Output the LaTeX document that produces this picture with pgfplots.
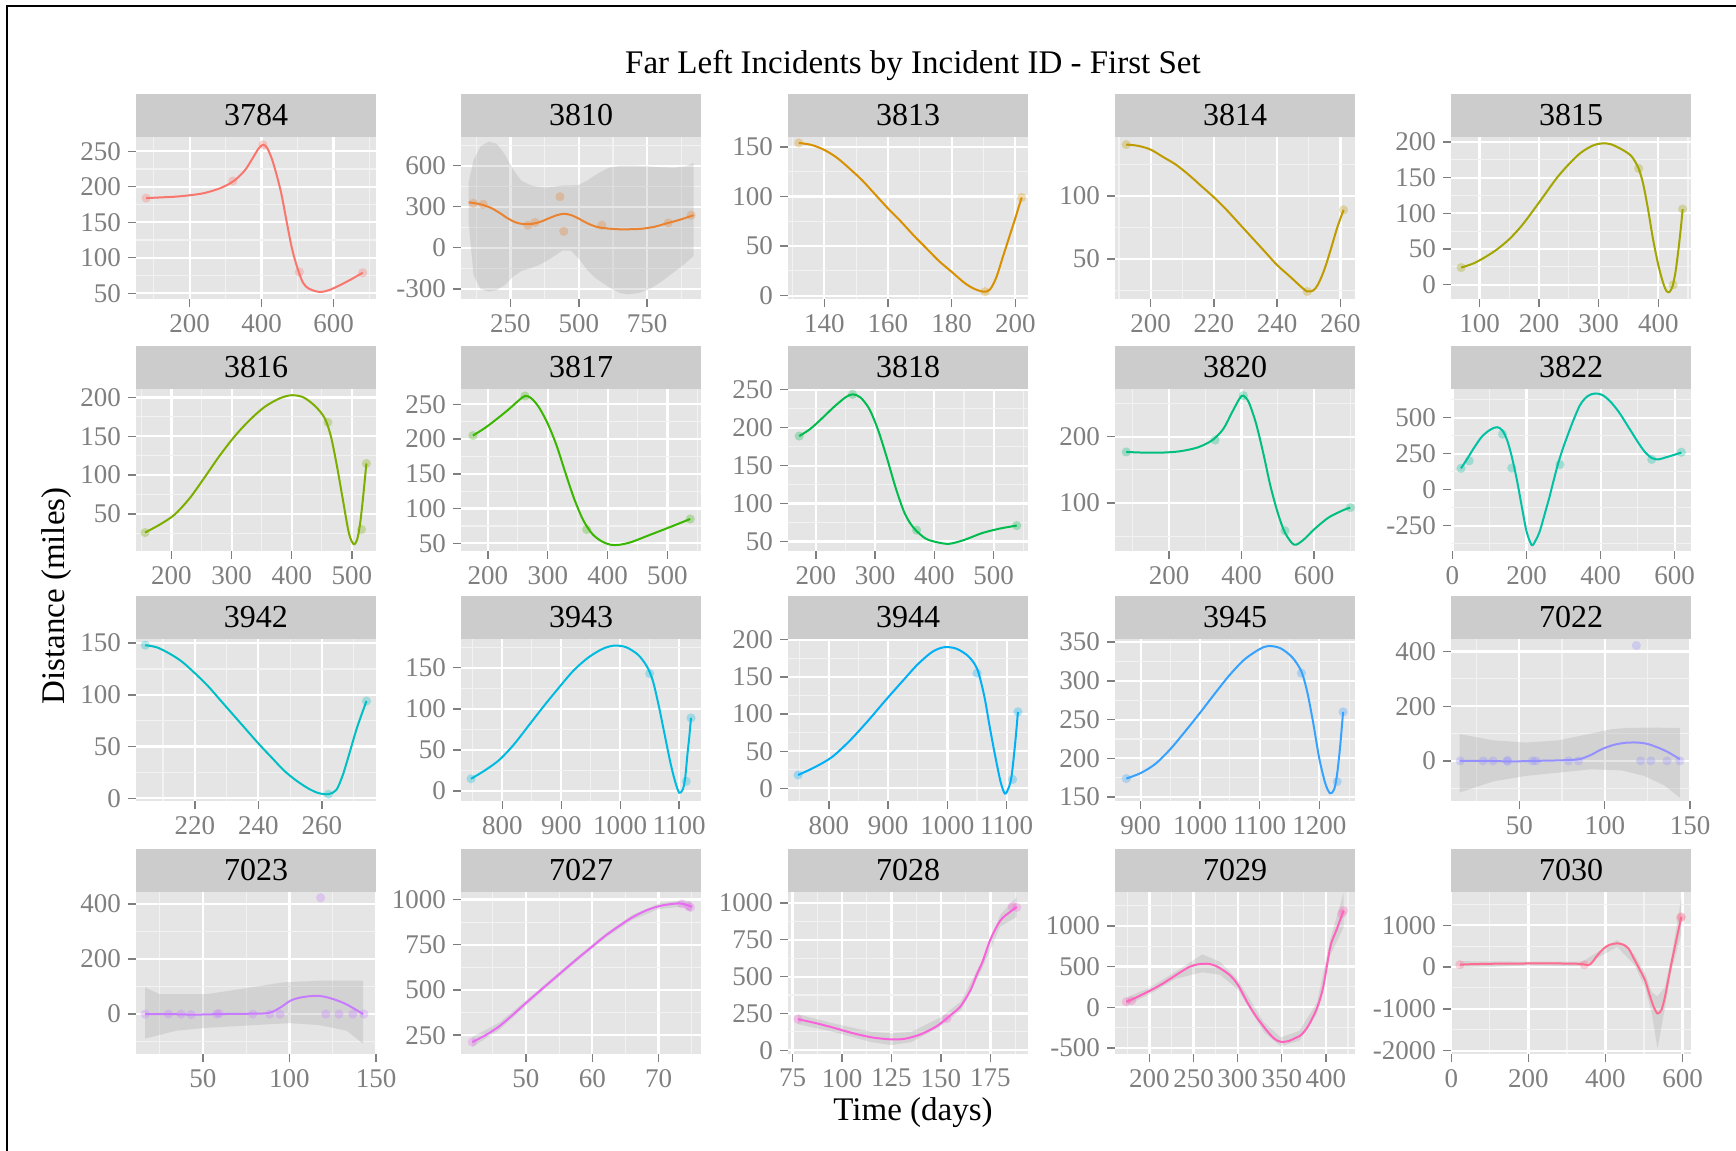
\documentclass[border=0pt]{standalone}
\usepackage{pgfplots}
\pgfplotsset{compat=1.18}
\usepackage{fontspec}
\setmainfont{Liberation Serif}

\definecolor{panelbg}{HTML}{E5E5E5}
\definecolor{minorgrid}{HTML}{F2F2F2}
\definecolor{stripbg}{HTML}{CCCCCC}
\definecolor{tickgray}{HTML}{7F7F7F}
\definecolor{bandgray}{HTML}{999999}
\definecolor{c3784}{HTML}{F8766D}
\definecolor{c3810}{HTML}{EA8331}
\definecolor{c3813}{HTML}{D89000}
\definecolor{c3814}{HTML}{C09B00}
\definecolor{c3815}{HTML}{A3A500}
\definecolor{c3816}{HTML}{7CAE00}
\definecolor{c3817}{HTML}{39B600}
\definecolor{c3818}{HTML}{00BB4E}
\definecolor{c3820}{HTML}{00BF7D}
\definecolor{c3822}{HTML}{00C1A3}
\definecolor{c3942}{HTML}{00BFC4}
\definecolor{c3943}{HTML}{00BAE0}
\definecolor{c3944}{HTML}{00B0F6}
\definecolor{c3945}{HTML}{35A2FF}
\definecolor{c7022}{HTML}{9590FF}
\definecolor{c7023}{HTML}{C77CFF}
\definecolor{c7027}{HTML}{E76BF3}
\definecolor{c7028}{HTML}{FA62DB}
\definecolor{c7029}{HTML}{FF62BC}
\definecolor{c7030}{HTML}{FF6C91}

\pgfplotsset{
  panel/.style={
    scale only axis, width=120pt, height=81pt, anchor=north west,
    axis background/.style={fill=panelbg},
    axis line style={draw=none},
    xtick pos=left, ytick pos=left,
    tick align=outside,
    major tick length=4pt, minor tick length=0pt,
    major tick style={draw=tickgray, line width=0.7pt},
    grid=both,
    major grid style={white, line width=1.1pt},
    minor grid style={minorgrid, line width=0.55pt},
    ticklabel style={font=\fontsize{13.5pt}{14pt}\selectfont, text=tickgray},
    /pgf/number format/assume math mode=true,
    /pgf/number format/1000 sep={},
    scaled ticks=false,
    every axis title/.style={at={(0.5,1)}, anchor=south, fill=stripbg,
      minimum width=120pt, minimum height=21.5pt, inner sep=0pt,
      font=\fontsize{16pt}{17pt}\selectfont},
  },
  curve/.style={color=#1, line width=1pt, smooth, tension=0.5, mark=none},
  pts/.style={only marks, mark=*, mark size=2.3pt, color=#1,
    fill opacity=0.3, draw opacity=0,
    mark options={fill=#1, fill opacity=0.3, draw opacity=0}},
  band/.style={draw=none, fill=bandgray, fill opacity=0.24, mark=none},
}

\begin{document}
\begin{tikzpicture}
\useasboundingbox (0,0) rectangle (868pt,-575.5pt);
\draw[line width=1pt] (3.5pt,-580pt) -- (3.5pt,-3pt) -- (870pt,-3pt);
\node[anchor=base, font=\fontsize{16.5pt}{18pt}\selectfont] at (456.5pt,-36.5pt) {Far Left Incidents by Incident ID - First Set};
\node[anchor=base, font=\fontsize{16.5pt}{18pt}\selectfont] at (456.5pt,-560pt) {Time (days)};
\node[anchor=base, rotate=90, font=\fontsize{16.5pt}{18pt}\selectfont] at (32pt,-298pt) {Distance (miles)};

% ---------------- row 1 ----------------
\begin{axis}[panel, at={(68pt,-68.5pt)}, title={3784},
  xmin=51, xmax=718, ymin=42, ymax=270,
  xtick={200,400,600}, minor xtick={100,300,500,700},
  ytick={50,100,150,200,250}, minor ytick={75,125,175,225}]
\addplot[curve=c3784] coordinates {(79,184) (120,185) (160,186) (200,188) (240,191) (280,197) (310,204) (330,211) (355,224) (375,240) (392,254) (404,259) (415,255) (428,240) (440,220) (455,190) (470,150) (485,112) (500,85) (515,65) (530,57) (550,53) (567,52) (590,55) (620,62) (650,70) (681,79)};
\addplot[pts=c3784] coordinates {(79,184) (320,208) (404,259) (505,80) (681,79)};
\end{axis}

\begin{axis}[panel, at={(230.5pt,-68.5pt)}, title={3810},
  xmin=69, xmax=947, ymin=-374, ymax=809,
  xtick={250,500,750}, minor xtick={125,375,625,875},
  ytick={-300,0,300,600}, minor ytick={-150,150,450,750}]
\addplot[band] coordinates {(97,480) (115,640) (140,740) (170,775) (200,760) (230,680) (260,570) (290,490) (320,460) (350,445) (380,440) (410,445) (440,455) (470,455) (500,460) (530,490) (567,540) (610,585) (651,600) (700,600) (750,595) (800,588) (850,585) (890,595) (920,620)
 (920,-60) (880,-130) (840,-190) (800,-250) (760,-300) (720,-330) (680,-340) (650,-330) (620,-300) (590,-260) (560,-220) (530,-160) (500,-80) (470,-20) (440,-20) (410,-60) (380,-100) (350,-130) (320,-150) (290,-170) (260,-210) (230,-270) (200,-310) (170,-320) (140,-300) (115,-200) (97,180)};
\addplot[curve=c3810] coordinates {(97,332) (130,322) (150,312) (180,290) (210,255) (240,215) (270,185) (300,172) (330,175) (360,190) (390,215) (420,238) (445,248) (470,240) (500,213) (530,180) (567,152) (610,140) (651,135) (700,136) (735,140) (780,155) (819,177) (870,205) (920,238)};
\addplot[pts=c3810] coordinates {(114,325) (150,318) (314,165) (340,185) (431,373) (445,120) (584,165) (827,182) (911,238)};
\end{axis}

\begin{axis}[panel, at={(394pt,-68.5pt)}, title={3813},
  xmin=128.6, xmax=204, ymin=-3.4, ymax=160,
  xtick={140,160,180,200}, minor xtick={130,150,170,190},
  ytick={0,50,100,150}, minor ytick={25,75,125}]
\addplot[curve=c3813] coordinates {(132,154) (136,152) (140,147) (144,139) (148,128) (152,116) (156,102) (160,88) (164,75) (168,61) (172,48) (176,35) (180,24) (184,13) (187,7) (190,4) (192,6) (194,18) (196,38) (198,58) (200,78) (202,99)};
\addplot[pts=c3813] coordinates {(132,154) (190.5,4) (202,99)};
\end{axis}

\begin{axis}[panel, at={(557.5pt,-68.5pt)}, title={3814},
  xmin=188.75, xmax=264.6, ymin=18, ymax=147,
  xtick={200,220,240,260}, minor xtick={190,210,230,250},
  ytick={50,100}, minor ytick={25,75,125}]
\addplot[curve=c3814] coordinates {(192.3,141) (196,140) (200,137) (204,131) (208,125) (212,117) (216,108) (220,99) (224,89) (228,78) (232,67) (236,56) (240,45) (244,36) (247,29) (249.5,24) (251.5,25) (253,30) (255,42) (257,58) (259,75) (261,89)};
\addplot[pts=c3814] coordinates {(192.3,141) (249.5,24) (261,89)};
\end{axis}

\begin{axis}[panel, at={(725.5pt,-68.5pt)}, title={3815},
  xmin=52, xmax=455, ymin=-20, ymax=207,
  xtick={100,200,300,400}, minor xtick={150,250,350,450},
  ytick={0,50,100,150,200}, minor ytick={25,75,125,175}]
\addplot[curve=c3815] coordinates {(69,24) (90,30) (110,39) (130,50) (150,64) (170,82) (190,104) (210,127) (230,150) (250,169) (270,185) (290,195) (305,198) (320,197) (340,189) (355,180) (367,163) (375,140) (383,105) (391,65) (400,28) (408,3) (414,-9) (419,-10) (424,-2) (429,18) (434,50) (438,80) (441,106)};
\addplot[pts=c3815] coordinates {(69,24) (367,163) (425,0) (441,106)};
\end{axis}

% ---------------- row 2 ----------------
\begin{axis}[panel, at={(68pt,-194.5pt)}, title={3816},
  xmin=141, xmax=540, ymin=2.2, ymax=211,
  xtick={200,300,400,500}, minor xtick={150,250,350,450},
  ytick={50,100,150,200}, minor ytick={25,75,125,175}]
\addplot[curve=c3816] coordinates {(156,26) (180,36) (205,49) (230,70) (255,97) (280,125) (305,150) (330,171) (355,188) (380,199) (400,203) (420,200) (440,188) (455,173) (465,150) (475,112) (485,68) (495,25) (503,11) (509,18) (514,40) (519,75) (524,115)};
\addplot[pts=c3816] coordinates {(156,26) (460,168) (516,30) (524,115)};
\end{axis}

\begin{axis}[panel, at={(230.5pt,-194.5pt)}, title={3817},
  xmin=155, xmax=556, ymin=39, ymax=272,
  xtick={200,300,400,500}, minor xtick={250,350,450,550},
  ytick={50,100,150,200,250}, minor ytick={75,125,175,225}]
\addplot[curve=c3817] coordinates {(175,205) (195,216) (215,229) (235,243) (252,256) (262,262) (272,259) (285,246) (300,222) (315,190) (330,150) (345,112) (360,82) (375,63) (390,53) (405,48) (420,48) (440,52) (470,62) (500,72) (538,85)};
\addplot[pts=c3817] coordinates {(175,205) (262,262) (365,70) (538,85)};
\end{axis}

\begin{axis}[panel, at={(394pt,-194.5pt)}, title={3818},
  xmin=153, xmax=558, ymin=37.5, ymax=251,
  xtick={200,300,400,500}, minor xtick={250,350,450,550},
  ytick={50,100,150,200,250}, minor ytick={75,125,175,225}]
\addplot[curve=c3818] coordinates {(172,189) (190,198) (210,212) (230,227) (250,240) (262,244) (275,240) (290,225) (305,197) (320,160) (335,120) (350,87) (365,68) (385,54) (405,49) (425,47) (450,52) (480,61) (510,67) (539,71)};
\addplot[pts=c3818] coordinates {(172,189) (262,244) (370,65) (539,71)};
\end{axis}

\begin{axis}[panel, at={(557.5pt,-194.5pt)}, title={3820},
  xmin=51, xmax=713, ymin=27.5, ymax=272,
  xtick={200,400,600}, minor xtick={100,300,500,700},
  ytick={100,200}, minor ytick={50,150,250}]
\addplot[curve=c3820] coordinates {(82,177) (130,176) (180,176) (230,178) (280,184) (320,195) (350,212) (375,238) (395,258) (405,262) (420,252) (440,220) (460,175) (480,125) (500,85) (520,55) (545,37) (570,44) (600,60) (640,78) (680,89) (700,93)};
\addplot[pts=c3820] coordinates {(82,177) (327,195) (405,262) (520,58) (700,93)};
\end{axis}

\begin{axis}[panel, at={(725.5pt,-194.5pt)}, title={3822},
  xmin=-4, xmax=644, ymin=-426, ymax=699,
  xtick={0,200,400,600}, minor xtick={100,300,500},
  ytick={-250,0,250,500}, minor ytick={-375,-125,125,375,625}]
\addplot[curve=c3822] coordinates {(23,148) (40,215) (58,290) (80,370) (103,418) (121,434) (135,410) (148,340) (160,230) (174,66) (188,-130) (200,-290) (214,-385) (225,-350) (236,-286) (250,-160) (262,-50) (271,42) (285,180) (300,300) (324,466) (345,590) (365,650) (385,668) (405,657) (425,615) (449,540) (475,435) (502,325) (520,260) (538,220) (555,210) (573,222) (600,243) (618,258)};
\addplot[pts=c3822] coordinates {(23,148) (45,200) (135,385) (160,150) (290,175) (538,210) (618,260)};
\end{axis}

% ---------------- row 3 ----------------
\begin{axis}[panel, at={(68pt,-319.5pt)}, title={3942},
  xmin=201.5, xmax=277, ymin=-2.6, ymax=154,
  xtick={220,240,260}, minor xtick={210,230,250,270},
  ytick={0,50,100,150}, minor ytick={25,75,125}]
\addplot[curve=c3942] coordinates {(204.4,148) (208,146) (212,140) (216,132) (220,121) (224,109) (228,95) (232,81) (236,67) (240,53) (244,40) (248,27) (252,17) (256,9) (259,5) (262,4) (264.5,8) (266.5,22) (268.5,42) (271,68) (274,94)};
\addplot[pts=c3942] coordinates {(204.4,148) (262,4) (274,94)};
\end{axis}

\begin{axis}[panel, at={(230.5pt,-319.5pt)}, title={3943},
  xmin=730, xmax=1137, ymin=-12, ymax=185,
  xtick={800,900,1000,1100}, minor xtick={750,850,950,1050},
  ytick={0,50,100,150}, minor ytick={25,75,125,175}]
\addplot[curve=c3943] coordinates {(747,15) (770,25) (795,38) (820,57) (845,80) (870,103) (895,125) (920,146) (945,162) (970,173) (990,177) (1010,175) (1030,166) (1045,152) (1055,135) (1065,105) (1075,70) (1085,35) (1093,12) (1100,-2) (1106,2) (1110,15) (1114,45) (1117,65) (1120,89)};
\addplot[pts=c3943] coordinates {(747,15) (1050,143) (1112,12) (1120,89)};
\end{axis}

\begin{axis}[panel, at={(394pt,-319.5pt)}, title={3944},
  xmin=731, xmax=1136, ymin=-17, ymax=201,
  xtick={800,900,1000,1100}, minor xtick={750,850,950,1050},
  ytick={0,50,100,150,200}, minor ytick={25,75,125,175}]
\addplot[curve=c3944] coordinates {(748,18) (775,28) (805,42) (835,64) (865,90) (895,118) (925,145) (950,167) (975,184) (995,190) (1015,188) (1035,178) (1050,161) (1062,125) (1072,80) (1082,38) (1090,8) (1097,-7) (1103,0) (1108,15) (1113,50) (1116,75) (1119,103)};
\addplot[pts=c3944] coordinates {(748,18) (1050,155) (1110,12) (1119,103)};
\end{axis}

\begin{axis}[panel, at={(557.5pt,-319.5pt)}, title={3945},
  xmin=857, xmax=1260, ymin=145, ymax=354,
  xtick={900,1000,1100,1200}, minor xtick={950,1050,1150,1250},
  ytick={150,200,250,300,350}, minor ytick={175,225,275,325}]
\addplot[curve=c3945] coordinates {(876,174) (900,181) (925,193) (950,212) (975,235) (1000,259) (1025,284) (1050,308) (1075,328) (1100,341) (1115,345) (1135,342) (1155,330) (1170,312) (1180,285) (1190,245) (1200,200) (1210,168) (1218,155) (1225,160) (1230,180) (1235,215) (1240,260)};
\addplot[pts=c3945] coordinates {(876,174) (1170,310) (1230,170) (1240,260)};
\end{axis}

\begin{axis}[panel, at={(725.5pt,-319.5pt)}, title={7022},
  xmin=10, xmax=150.5, ymin=-147, ymax=446,
  xtick={50,100,150}, minor xtick={25,75,125},
  ytick={0,200,400}, minor ytick={-100,100,300}]
\addplot[band] coordinates {(15,98) (35,75) (54,67) (73,75) (92,100) (104,116) (112,120) (125,122) (144,120)
 (144,-135) (135,-90) (123,-55) (110,-35) (92,-31) (73,-43) (54,-55) (35,-75) (15,-116)};
\addplot[curve=c7022] coordinates {(15,0) (30,0) (45,-2) (60,0) (75,2) (85,6) (92,22) (98,42) (105,58) (112,66) (119,67) (125,62) (131,49) (137,32) (144,6)};
\addplot[pts=c7022] coordinates {(15.4,0) (28.8,0) (34.6,0) (43,-2) (43,2) (57.7,0) (59.6,0) (78.8,0) (84.6,0) (121,0) (127,0) (136.5,0) (144,0) (118.5,422)};
\end{axis}

% ---------------- row 4 ----------------
\begin{axis}[panel, at={(68pt,-446pt)}, title={7023},
  xmin=11.3, xmax=150, ymin=-145, ymax=443,
  xtick={50,100,150}, minor xtick={25,75,125},
  ytick={0,200,400}, minor ytick={-100,100,300}]
\addplot[band] coordinates {(16.6,97) (25,72) (52,72) (78,97) (96,115) (117,121) (142.5,121)
 (142.5,-108) (133,-60) (117,-40) (100,-33) (80,-40) (52,-50) (35,-60) (16.6,-89)};
\addplot[curve=c7023] coordinates {(16.6,0) (30,0) (45,-2) (60,0) (75,1) (88,4) (95,25) (101,50) (108,62) (117,66) (125,55) (133,35) (142.5,0)};
\addplot[pts=c7023] coordinates {(16.6,0) (30,0) (37.3,0) (43.2,-2) (58,0) (59.3,2) (78.8,0) (88.6,0) (94.5,0) (121,0) (128.6,0) (136.6,0) (143,0) (118,422)};
\end{axis}

\begin{axis}[panel, at={(230.5pt,-446pt)}, title={7027},
  xmin=40.2, xmax=76.4, ymin=146, ymax=1041,
  xtick={50,60,70}, minor xtick={45,55,65,75},
  ytick={250,500,750,1000}, minor ytick={375,625,875}]
\addplot[band] coordinates {(41.9,240) (46,320) (50,442) (54,567) (58,692) (62,812) (66,914) (70,977) (73.5,995) (75,990)
 (75,930) (73.5,960) (70,947) (66,886) (62,788) (58,668) (54,543) (50,414) (46,280) (41.9,184)};
\addplot[curve=c7027] coordinates {(41.9,212) (44,252) (46,300) (48,362) (50,428) (52,492) (54,555) (56,618) (58,680) (60,740) (62,800) (64,852) (66,900) (68,937) (70,962) (72,975) (73.5,977) (75,960)};
\addplot[pts=c7027] coordinates {(41.9,212) (73.5,975) (74.5,962) (74.8,957)};
\end{axis}

\begin{axis}[panel, at={(394pt,-446pt)}, title={7028},
  xmin=72.7, xmax=194, ymin=-25, ymax=1074,
  xtick={75,100,125,150,175}, minor xtick={87.5,112.5,137.5,162.5,187.5},
  ytick={0,250,500,750,1000}, minor ytick={125,375,625,875}]
\addplot[band] coordinates {(77.7,245) (95,185) (115,125) (125,115) (135,125) (150,225) (160,330) (170,590) (180,920) (188.3,1040)
 (188.3,905) (180,840) (170,530) (160,270) (150,165) (135,55) (125,35) (115,55) (95,127) (77.7,177)};
\addplot[curve=c7028] coordinates {(77.7,211) (85,190) (95,156) (105,118) (115,88) (125,74) (132,79) (140,110) (148,165) (155,240) (160,300) (165,410) (168,510) (171,600) (175,752) (180,880) (185,940) (188.3,972)};
\addplot[pts=c7028] coordinates {(77.7,211) (153,215) (186,975) (188.3,970)};
\end{axis}

\begin{axis}[panel, at={(557.5pt,-446pt)}, title={7029},
  xmin=161, xmax=433, ymin=-575, ymax=1417,
  xtick={200,250,300,350,400}, minor xtick={175,225,275,325,375,425},
  ytick={-500,0,500,1000}, minor ytick={-250,250,750,1250}]
\addplot[band] coordinates {(173.7,120) (200,240) (230,440) (260,650) (280,560) (300,340) (330,-190) (349,-370) (370,-290) (390,60) (405,840) (420,1400)
 (420,980) (405,640) (390,-80) (370,-410) (349,-480) (330,-310) (300,220) (280,400) (260,430) (230,350) (200,160) (173.7,20)};
\addplot[curve=c7029] coordinates {(173.7,67) (185,120) (200,200) (215,290) (230,395) (245,495) (255,528) (265,535) (275,510) (290,405) (300,280) (312,40) (322,-130) (334,-300) (342,-390) (349,-425) (358,-415) (366,-375) (372,-340) (380,-230) (390,-8) (397,250) (405,742) (412,950) (420,1188)};
\addplot[pts=c7029] coordinates {(173.7,67) (180,80) (418,1150) (420,1188)};
\end{axis}

\begin{axis}[panel, at={(725.5pt,-446pt)}, title={7030},
  xmin=-1, xmax=622, ymin=-2081, ymax=1795,
  xtick={0,200,400,600}, minor xtick={100,300,500},
  ytick={-2000,-1000,0,1000}, minor ytick={-1500,-500,500,1500}]
\addplot[band] coordinates {(22,140) (200,130) (340,130) (430,650) (475,300) (503,-150) (520,-600) (535,-700) (554,-480) (571,250) (597,1650)
 (597,800) (571,-90) (554,-1000) (535,-1950) (520,-1100) (503,-500) (475,60) (430,480) (340,20) (200,40) (22,-30)};
\addplot[curve=c7030] coordinates {(22,57) (60,70) (120,80) (200,85) (280,85) (320,80) (340,72) (355,45) (365,110) (380,290) (395,440) (410,530) (430,565) (445,540) (460,440) (475,180) (490,-80) (503,-324) (515,-680) (525,-950) (535,-1110) (545,-1030) (554,-730) (562,-350) (571,81) (584,650) (597,1200)};
\addplot[pts=c7030] coordinates {(22,57) (345,55) (595,1180) (597,1200)};
\end{axis}
\end{tikzpicture}
\end{document}
